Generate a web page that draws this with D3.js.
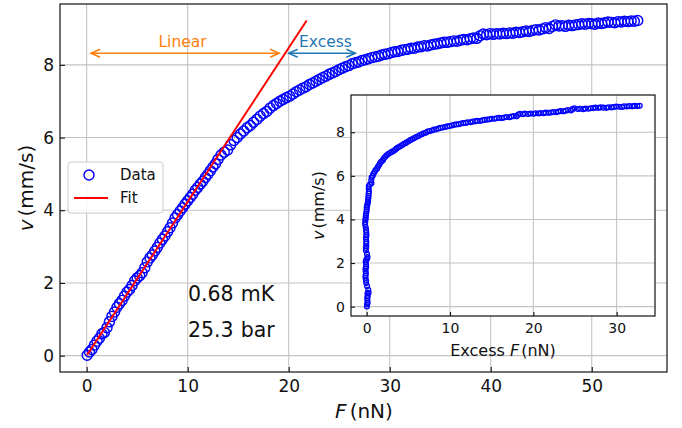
<!DOCTYPE html>
<html>
<head>
<meta charset="utf-8">
<script src="https://cdn.jsdelivr.net/npm/d3@7"></script>
<style>
  html, body { margin: 0; padding: 0; background: #fff; }
  svg { display: block; font-family: 'DejaVu Sans', sans-serif; }
</style>
</head>
<body>
<div id="chart"></div>
<script>
// ─── Data ───
const forceNN = [
  0.05, 0.28, 0.52, 0.77, 1.02, 1.26, 1.51, 1.75, 2.01, 2.25, 2.50, 2.76, 3.00, 3.24, 3.50, 3.75,
  4.00, 4.24, 4.49, 4.75, 5.00, 5.25, 5.49, 5.75, 6.00, 6.26, 6.50, 6.75, 7.00, 7.25, 7.50, 7.75,
  8.01, 8.25, 8.50, 8.76, 9.00, 9.25, 9.50, 9.75, 10.00, 10.25, 10.50, 10.75, 11.00, 11.25, 11.50,
  11.75, 12.00, 12.25, 12.50, 12.75, 13.00, 13.30, 13.62, 13.95, 14.25, 14.58, 14.90, 15.22, 15.55,
  15.88, 16.20, 16.52, 16.85, 17.18, 17.50, 17.83, 18.15, 18.48, 18.80, 19.12, 19.45, 19.78, 20.10,
  20.42, 20.75, 21.08, 21.40, 21.72, 22.05, 22.38, 22.70, 23.02, 23.35, 23.68, 24.00, 24.32, 24.65,
  24.98, 25.30, 25.62, 25.95, 26.28, 26.60, 26.92, 27.25, 27.58, 27.90, 28.22, 28.55, 28.88, 29.20,
  29.52, 29.85, 30.18, 30.50, 30.82, 31.15, 31.48, 31.80, 32.12, 32.45, 32.78, 33.10, 33.42, 33.75,
  34.08, 34.40, 34.72, 35.05, 35.38, 35.70, 36.02, 36.35, 36.68, 37.00, 37.32, 37.65, 37.98, 38.30,
  38.62, 38.95, 39.28, 39.60, 39.92, 40.25, 40.58, 40.90, 41.22, 41.55, 41.88, 42.20, 42.52, 42.85,
  43.18, 43.50, 43.82, 44.15, 44.48, 44.80, 45.12, 45.45, 45.78, 46.10, 46.42, 46.75, 47.08, 47.40,
  47.72, 48.05, 48.38, 48.70, 49.02, 49.35, 49.68, 50.00, 50.32, 50.65, 50.98, 51.30, 51.62, 51.95,
  52.28, 52.60, 52.92, 53.25, 53.58, 53.90, 54.22, 54.55
];
const velocity = [
  0.01, 0.10, 0.17, 0.29, 0.40, 0.48, 0.60, 0.64, 0.77, 0.93, 1.08, 1.20, 1.33, 1.43, 1.52, 1.64,
  1.75, 1.82, 1.93, 2.06, 2.14, 2.20, 2.28, 2.42, 2.58, 2.69, 2.77, 2.88, 2.98, 3.10, 3.20, 3.29,
  3.41, 3.52, 3.65, 3.79, 3.88, 3.98, 4.07, 4.17, 4.26, 4.35, 4.44, 4.55, 4.63, 4.72, 4.80,
  4.90, 4.99, 5.09, 5.19, 5.28, 5.40, 5.52, 5.60, 5.66, 5.80, 5.92, 6.00, 6.10, 6.18,
  6.27, 6.33, 6.42, 6.50, 6.59, 6.66, 6.72, 6.81, 6.88, 6.94, 7.00, 7.05, 7.10, 7.14,
  7.20, 7.26, 7.31, 7.36, 7.40, 7.46, 7.50, 7.55, 7.60, 7.65, 7.69, 7.74, 7.78, 7.82,
  7.87, 7.91, 7.95, 7.98, 8.03, 8.06, 8.08, 8.12, 8.14, 8.17, 8.20, 8.22, 8.24, 8.27,
  8.29, 8.31, 8.34, 8.36, 8.37, 8.40, 8.42, 8.43, 8.46, 8.46, 8.49, 8.50, 8.53, 8.52,
  8.55, 8.57, 8.58, 8.60, 8.62, 8.62, 8.64, 8.66, 8.65, 8.68, 8.70, 8.69, 8.72, 8.74,
  8.73, 8.80, 8.85, 8.83, 8.86, 8.84, 8.86, 8.85, 8.87, 8.86, 8.88, 8.87, 8.90, 8.89,
  8.91, 8.93, 8.92, 8.95, 8.97, 8.96, 8.99, 9.02, 9.00, 9.06, 9.10, 9.07, 9.08, 9.06,
  9.09, 9.08, 9.10, 9.11, 9.13, 9.12, 9.14, 9.13, 9.12, 9.15, 9.14, 9.16, 9.18, 9.17,
  9.16, 9.19, 9.18, 9.20, 9.19, 9.21, 9.20, 9.22
];
const fitSlope = 0.4233;          // mm/s per nN
const fitRange = [0.05, 21.78];   // nN
const xTicks = [0, 10, 20, 30, 40, 50];
const yTicks = [0, 2, 4, 6, 8];
const insetXTicks = [0, 10, 20, 30];
const insetYTicks = [0, 2, 4, 6, 8];
const linearSpan = [0.43, 19.05];
const excessSpan = [20.0, 26.6];
const spanLevel = 8.32;

const data = forceNN.map((f, i) => ({ f, v: velocity[i] }));
// excess force = measured force minus the force the linear fit needs for that velocity
const excessData = data.map(d => ({ e: d.f - d.v / fitSlope, v: d.v }));

const W = 682, H = 428;
const svg = d3.select('#chart').append('svg').attr('width', W).attr('height', H);

// ─── Main axes ───
const x = d3.scaleLinear().domain([-2.64, 57.45]).range([60, 667]);
const y = d3.scaleLinear().domain([-0.45, 9.675]).range([372, 4]);
const grid = '#c4c4c4';

const gGrid = svg.append('g');
xTicks.forEach(t => gGrid.append('line')
  .attr('x1', x(t)).attr('x2', x(t)).attr('y1', y.range()[0]).attr('y2', y.range()[1])
  .attr('stroke', grid).attr('stroke-width', 1.1));
yTicks.forEach(t => gGrid.append('line')
  .attr('y1', y(t)).attr('y2', y(t)).attr('x1', x.range()[0]).attr('x2', x.range()[1])
  .attr('stroke', grid).attr('stroke-width', 1.1));

// data circles
svg.append('g').selectAll('circle').data(data).join('circle')
  .attr('cx', d => x(d.f)).attr('cy', d => y(d.v)).attr('r', 5)
  .attr('fill', 'none').attr('stroke', '#0000ff').attr('stroke-width', 1.45);

// fit line
svg.append('path')
  .datum(fitRange)
  .attr('d', d3.line().x(f => x(f)).y(f => y(fitSlope * f)))
  .attr('stroke', '#ff0000').attr('stroke-width', 2).attr('fill', 'none');

// axes (ticks inward)
const xAxis = svg.append('g').attr('transform', `translate(0,${y.range()[0]})`)
  .call(d3.axisBottom(x).tickValues(xTicks).tickSizeInner(-5).tickSizeOuter(0).tickPadding(8));
const yAxis = svg.append('g').attr('transform', `translate(${x.range()[0]},0)`)
  .call(d3.axisLeft(y).tickValues(yTicks).tickSizeInner(-5).tickSizeOuter(0).tickPadding(6));
[xAxis, yAxis].forEach(a => {
  a.select('.domain').remove();
  a.selectAll('text').attr('font-size', 17).attr('fill', '#111').attr('font-family', 'DejaVu Sans');
  a.selectAll('line').attr('stroke', '#111').attr('stroke-width', 1.1);
});

svg.append('rect')
  .attr('x', 60).attr('y', 4).attr('width', 607).attr('height', 368)
  .attr('fill', 'none').attr('stroke', '#111').attr('stroke-width', 1.2);

// axis labels
const xl = svg.append('text').attr('x', 364).attr('y', 418).attr('text-anchor', 'middle')
  .attr('font-size', 20).attr('fill', '#111');
xl.append('tspan').attr('font-style', 'italic').text('F');
xl.append('tspan').attr('dx', 3).text('(nN)');

const yl = svg.append('text').attr('transform', 'translate(33,188) rotate(-90)')
  .attr('text-anchor', 'middle').attr('font-size', 20).attr('fill', '#111');
yl.append('tspan').attr('font-style', 'italic').text('v');
yl.append('tspan').attr('dx', 3).text('(mm/s)');

// ─── Span arrows ───
function spanArrow(span, color) {
  const x1 = x(span[0]), x2 = x(span[1]), yy = y(spanLevel), hl = 9, hw = 4;
  const g = svg.append('g').attr('stroke', color).attr('stroke-width', 1.5).attr('fill', 'none');
  g.append('line').attr('x1', x1).attr('x2', x2).attr('y1', yy).attr('y2', yy);
  g.append('path').attr('d', `M${x1 + hl},${yy - hw}L${x1},${yy}L${x1 + hl},${yy + hw}`);
  g.append('path').attr('d', `M${x2 - hl},${yy - hw}L${x2},${yy}L${x2 - hl},${yy + hw}`);
}
spanArrow(linearSpan, '#ff7f0e');
spanArrow(excessSpan, '#1f77b4');
svg.append('text').attr('x', x(9.49)).attr('y', 47).attr('text-anchor', 'middle')
  .attr('font-size', 15.5).attr('fill', '#ff7f0e').text('Linear');
svg.append('text').attr('x', x(23.64)).attr('y', 47).attr('text-anchor', 'middle')
  .attr('font-size', 15.5).attr('fill', '#1f77b4').text('Excess');

// ─── Conditions text ───
[['0.68', 'mK', 301], ['25.3', 'bar', 337]].forEach(([n, u, by]) => {
  const t = svg.append('text').attr('x', 188).attr('y', by).attr('font-size', 20.5).attr('fill', '#111');
  t.append('tspan').text(n);
  t.append('tspan').attr('dx', 7).text(u);
});

// ─── Legend ───
const lg = svg.append('g');
lg.append('rect').attr('x', 68).attr('y', 162).attr('width', 95).attr('height', 51).attr('rx', 3)
  .attr('fill', '#fff').attr('fill-opacity', 0.85).attr('stroke', '#cccccc').attr('stroke-width', 1);
lg.append('circle').attr('cx', 89).attr('cy', 175).attr('r', 5)
  .attr('fill', 'none').attr('stroke', '#0000ff').attr('stroke-width', 1.45);
lg.append('line').attr('x1', 74).attr('x2', 108).attr('y1', 198).attr('y2', 198)
  .attr('stroke', '#ff0000').attr('stroke-width', 2);
lg.append('text').attr('x', 120).attr('y', 180).attr('font-size', 15).attr('fill', '#111').text('Data');
lg.append('text').attr('x', 120).attr('y', 203).attr('font-size', 15).attr('fill', '#111').text('Fit');

// ─── Inset ───
const ix = d3.scaleLinear().domain([-1.88, 34.6]).range([351, 655]);
const iy = d3.scaleLinear().domain([-0.43, 9.71]).range([316, 95]);
const inset = svg.append('g');
inset.append('rect').attr('x', 351).attr('y', 95).attr('width', 304).attr('height', 221).attr('fill', '#fff');
insetXTicks.forEach(t => inset.append('line')
  .attr('x1', ix(t)).attr('x2', ix(t)).attr('y1', 316).attr('y2', 95)
  .attr('stroke', grid).attr('stroke-width', 1.1));
insetYTicks.forEach(t => inset.append('line')
  .attr('y1', iy(t)).attr('y2', iy(t)).attr('x1', 351).attr('x2', 655)
  .attr('stroke', grid).attr('stroke-width', 1.1));
inset.append('g').selectAll('circle').data(excessData).join('circle')
  .attr('cx', d => ix(d.e)).attr('cy', d => iy(d.v)).attr('r', 2.4)
  .attr('fill', 'none').attr('stroke', '#0000ff').attr('stroke-width', 1.3);

const ixAxis = inset.append('g').attr('transform', 'translate(0,316)')
  .call(d3.axisBottom(ix).tickValues(insetXTicks).tickSizeInner(-4).tickSizeOuter(0).tickPadding(7));
const iyAxis = inset.append('g').attr('transform', 'translate(351,0)')
  .call(d3.axisLeft(iy).tickValues(insetYTicks).tickSizeInner(-4).tickSizeOuter(0).tickPadding(6));
[ixAxis, iyAxis].forEach(a => {
  a.select('.domain').remove();
  a.selectAll('text').attr('font-size', 14).attr('fill', '#111').attr('font-family', 'DejaVu Sans');
  a.selectAll('line').attr('stroke', '#111').attr('stroke-width', 1.1);
});
inset.append('rect').attr('x', 351).attr('y', 95).attr('width', 304).attr('height', 221)
  .attr('fill', 'none').attr('stroke', '#111').attr('stroke-width', 1.2);

const ixl = inset.append('text').attr('x', 503).attr('y', 356).attr('text-anchor', 'middle')
  .attr('font-size', 16).attr('fill', '#111');
ixl.append('tspan').text('Excess ');
ixl.append('tspan').attr('font-style', 'italic').text('F');
ixl.append('tspan').attr('dx', 2).text('(nN)');

const iyl = inset.append('text').attr('transform', 'translate(324,205.5) rotate(-90)')
  .attr('text-anchor', 'middle').attr('font-size', 16).attr('fill', '#111');
iyl.append('tspan').attr('font-style', 'italic').text('v');
iyl.append('tspan').attr('dx', 2).text('(mm/s)');
</script>
</body>
</html>
